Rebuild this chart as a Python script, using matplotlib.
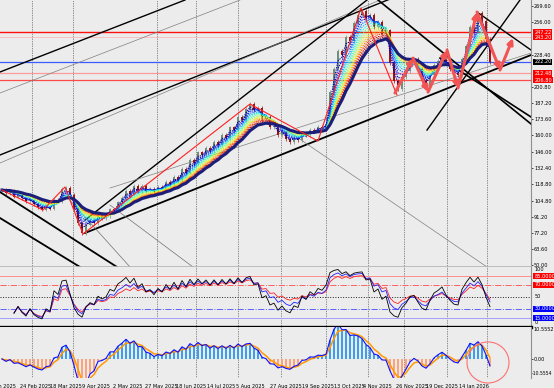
import numpy as np
import pandas as pd
import matplotlib
matplotlib.use("Agg")
import matplotlib.pyplot as plt
from matplotlib.patches import Ellipse

plt.rcParams['font.family'] = 'DejaVu Sans'

# closing prices, one value every two sessions
close = [113.7, 110.8, 113.4, 108.2, 109.5, 106.6, 104.0, 105.5, 101.6, 99.0,
         97.2, 99.4, 98.0, 105.2, 103.8, 114.5, 115.6, 109.4, 97.5, 85.6,
         77.3, 84.5, 88.2, 86.0, 92.4, 90.1, 91.6, 97.4, 96.5, 103.3,
         106.9, 112.8, 110.5, 117.4, 113.0, 117.2, 112.9, 114.6, 112.2, 116.4,
         114.9, 120.5, 118.6, 124.8, 122.0, 131.3, 128.4, 139.0, 136.2, 145.6,
         143.0, 149.1, 146.4, 154.4, 151.8, 160.3, 157.9, 166.8, 164.2, 175.5,
         172.8, 182.5, 186.4, 181.6, 183.0, 173.8, 175.4, 167.2, 168.3, 160.5,
         162.8, 157.1, 154.4, 157.6, 156.2, 162.0, 160.0, 164.5, 163.1, 167.0,
         166.3, 169.6, 196.7, 216.2, 231.5, 228.0, 243.4, 240.1, 255.2, 262.0,
         265.3, 259.5, 262.0, 251.9, 256.0, 245.8, 249.0, 221.3, 206.0, 199.3,
         209.4, 214.6, 223.0, 224.6, 216.2, 206.1, 202.6, 211.2, 219.6, 223.1,
         228.0, 221.4, 216.2, 212.0, 211.1, 224.7, 236.0, 251.9, 248.0, 263.7,
         256.8, 241.7, 222.2]

date_pos = [-0.25, 8.5, 15.9, 23.5, 31.4, 39.9, 47.25, 54.9, 62, 70.9,
            78.9, 86.9, 93.9, 102.4, 110.1, 118.1]
date_labels = ["31 Jan 2025", "24 Feb 2025", "18 Mar 2025", "9 Apr 2025",
               "2 May 2025", "27 May 2025", "18 Jun 2025", "14 Jul 2025",
               "5 Aug 2025", "27 Aug 2025", "19 Sep 2025", "13 Oct 2025",
               "4 Nov 2025", "26 Nov 2025", "19 Dec 2025", "14 Jan 2026"]
separators = [7.5, 17.75, 38.75, 48.5, 59, 69.75, 81, 91.5, 100.5, 111.25, 121.25]

price_ticks = [269.60, 256.00, 228.40, 200.80, 187.20, 173.60, 160.00, 146.00,
               132.40, 118.80, 104.80, 91.20, 77.20, 63.60, 50.00]

# horizontal levels: price, colour, width
levels = [(247.22, '#ff1010', 1.0), (243.20, '#ffb0b0', 0.5), (222.40, '#3a5cff', 0.9),
          (212.48, '#ff9a9a', 0.9), (206.80, '#ff4a4a', 0.9)]
red_boxes = [247.22, 243.20, 212.48, 206.80]

# zigzag pivots (bar, price)
zz_i = [0, 10.25, 15.75, 20.25, 62, 79, 89.75, 98.75]
zz_p = [113.7, 96.8, 116.3, 76.4, 186.6, 155.2, 267.9, 194.2]

# hand drawn arrow path (bar, price)
arr_i = [98.25, 102.75, 106.5, 111.25, 114, 118.75, 124.5, 127.75]
arr_p = [195.9, 225.5, 196.7, 232.3, 200.1, 264.5, 215.4, 242.5]

# trend lines: bar0, price0, bar1, price1, colour, width
trends = [
    (-0.5, 143.4, 99.5, 278.9, 'black', 1.0),
    (-0.5, 136.6, 94.5, 274.7, '#808080', 0.5),
    (-0.5, 213.7, 45.75, 274.7, 'black', 1.0),
    (-0.5, 195.9, 59.5, 274.7, '#808080', 0.5),
    (20.75, 77.3, 132.25, 228.1, 'black', 1.3),
    (20.75, 88.3, 91.25, 274.7, 'black', 1.0),
    (27, 115.4, 132.25, 229.8, '#808080', 0.5),
    (-0.5, 112.0, 28.75, 48.5, 'black', 1.3),
    (-0.5, 90.0, 19.5, 48.5, 'black', 1.3),
    (16.25, 107.8, 32, 48.5, '#707070', 0.5),
    (27, 101.0, 47.75, 48.5, '#707070', 0.5),
    (62, 185.7, 121.25, 48.5, '#808080', 0.5),
    (106.25, 164.5, 129.5, 274.7, 'black', 1.0),
    (94, 274.7, 132.25, 169.7, 'black', 1.2),
    (118.75, 264.5, 132.25, 232.3, 'black', 1.0),
    (109.5, 225.5, 132.25, 175.6, 'black', 1.2),
]

bg = '#ececec'
fs = 3.6
W = 531 / 554
fig = plt.figure(figsize=(5.54, 3.88), dpi=100, facecolor=bg)
ax = fig.add_axes([0, 1 - 267 / 388, W, 267 / 388], facecolor=bg)
ax_rsi = fig.add_axes([0, 1 - 327 / 388, W, 60 / 388], facecolor=bg)
ax_macd = fig.add_axes([0, 1 - 378 / 388, W, 51 / 388], facecolor=bg)

c = np.array(close)
n = len(c)
x = np.arange(n)
o = np.r_[c[0], c[:-1]]
s = pd.Series(c)

for a in (ax, ax_rsi, ax_macd):
    a.set_xlim(-0.5, 132.25)
    for side in ('top', 'left', 'bottom'):
        a.spines[side].set_visible(False)
    a.spines['right'].set_color('#909090')
    a.spines['right'].set_linewidth(0.8)
    a.yaxis.tick_right()
    a.tick_params(axis='y', labelsize=fs, length=1.2, pad=1.0, width=0.5)
    a.tick_params(axis='x', bottom=False, labelbottom=False)
    for sp in separators:
        a.axvline(sp, color='#303030', lw=0.5, ls=(0, (1, 1.5)), zorder=1)

# ---- main panel ----
ax.set_ylim(48.5, 274.7)
ax.spines['bottom'].set_visible(True)
ax.spines['bottom'].set_color('#b4b4b4')
ax.spines['bottom'].set_linewidth(1.2)
ax.set_yticks(price_ticks)
ax.set_yticklabels([f"{v:.2f}" for v in price_ticks])

for lv, col, lw in levels:
    ax.axhline(lv, color=col, lw=lw, zorder=2)

for b0, p0, b1, p1, col, lw in trends:
    ax.plot([b0, b1], [p0, p1], color=col, lw=lw, zorder=2)

# candles
up = c >= o
body_lo = np.minimum(o, c)
body_hi = np.maximum(o, c)
cols = np.where(up, '#6f8f7f', '#9b1414')
ax.vlines(x, body_lo - 1.5, body_hi + 1.5, colors=cols, lw=0.5, zorder=3)
ax.bar(x, np.maximum(body_hi - body_lo, 0.6), bottom=body_lo, width=0.55,
       color=cols, zorder=3)

# moving average ribbon
k_list = np.linspace(2, 12, 14)
for k, span in enumerate(k_list):
    ema = s.ewm(span=span, adjust=False).mean()
    ax.plot(x, ema, color=plt.cm.jet(k / (len(k_list) - 1)), lw=0.7,
            ls=(0, (1.5, 1)), zorder=4)
ax.plot(x, s.ewm(span=13, adjust=False).mean(), color='#1c1f7a', lw=2.2, zorder=5)

ax.plot(zz_i, zz_p, color='#ff2020', lw=0.8, zorder=6)
for j in range(len(arr_i) - 1):
    ax.annotate('', xy=(arr_i[j + 1], arr_p[j + 1]), xytext=(arr_i[j], arr_p[j]),
                arrowprops=dict(arrowstyle='-|>', color='#f25454', lw=2.2,
                                mutation_scale=8, shrinkA=0, shrinkB=0), zorder=7)

ytr = ax.get_yaxis_transform()
for v in red_boxes:
    ax.text(1.006, v, f"{v:.2f}", transform=ytr, fontsize=fs, color='white',
            va='center', ha='left', clip_on=False,
            bbox=dict(boxstyle='square,pad=0.15', fc='#ff0000', ec='none'))
ax.text(1.006, c[-1], f"{c[-1]:.2f}", transform=ytr, fontsize=fs, color='white',
        va='center', ha='left', clip_on=False,
        bbox=dict(boxstyle='square,pad=0.15', fc='black', ec='none'))

# ---- RSI panel ----
def rsi(series, period):
    d = series.diff()
    gain = d.clip(lower=0).ewm(alpha=1 / period, adjust=True).mean()
    loss = (-d.clip(upper=0)).ewm(alpha=1 / period, adjust=True).mean()
    out = 100 - 100 / (1 + gain / loss)
    out.iloc[:3] = np.nan  # warm-up
    return out

ax_rsi.set_ylim(0, 100)
ax_rsi.spines['bottom'].set_visible(True)
ax_rsi.spines['bottom'].set_color('black')
ax_rsi.spines['bottom'].set_linewidth(2.4)
ax_rsi.set_yticks([])
rsi_levels = [(85, '#ff9090', '-'), (70, '#ff6060', '-.'), (50, '#202020', ':'),
              (30, '#6060ff', '-.'), (15, '#a0a0ff', '-')]
for lv, col, ls in rsi_levels:
    ax_rsi.axhline(lv, color=col, lw=0.7, ls=ls)
ax_rsi.plot(x, rsi(s, 12), color='#ff2020', lw=0.6)
ax_rsi.plot(x, rsi(s, 8), color='#2020ff', lw=0.6)
ax_rsi.plot(x, rsi(s, 5), color='black', lw=0.6)
rtr = ax_rsi.get_yaxis_transform()
for v, fc in [(85, '#ff0000'), (70, '#ff0000'), (30, '#0000ff'), (15, '#0000ff')]:
    ax_rsi.text(1.006, v, f"{v:.4f}", transform=rtr, fontsize=fs, color='white',
                va='center', ha='left', clip_on=False,
                bbox=dict(boxstyle='square,pad=0.15', fc=fc, ec='none'))
for v, t in [(96, '100'), (50, '50'), (7, '0')]:
    ax_rsi.text(1.006, v, t, transform=rtr, fontsize=fs, color='black',
                va='center', ha='left', clip_on=False)

# ---- MACD panel ----
fast = s.ewm(span=2.5, adjust=False).mean()
slow = s.ewm(span=7, adjust=False).mean()
macd = (fast - slow) / slow * 100
signal = macd.ewm(span=3, adjust=False).mean()

ax_macd.set_ylim(-6.5, 10.9)
ax_macd.set_yticks([0])
ax_macd.set_yticklabels(['0.00'])
hcol = np.where(macd >= 0, '#3d9df0', '#ffa27a')
ax_macd.bar(x, macd, width=0.45, color=hcol, zorder=2)
ax_macd.plot(x, signal, color='#ff9a00', lw=1.1, zorder=3)
ax_macd.plot(x, macd, color='#1010ff', lw=0.8, zorder=4)
mtr = ax_macd.get_yaxis_transform()
ax_macd.text(1.004, 10.1, '10.5552', transform=mtr, fontsize=fs, va='center',
             ha='left', clip_on=False)
ax_macd.text(1.002, -4.9, '-10.5554', transform=mtr, fontsize=3.3, va='center',
             ha='left', clip_on=False)
ax_macd.add_patch(Ellipse((121.5, -1.2), width=10.5, height=14.0, fc='none',
                          ec='#ff7070', lw=0.8, clip_on=False, zorder=5))
ax_macd.set_xticks(date_pos)
ax_macd.set_xticklabels(date_labels)
ax_macd.tick_params(axis='x', labelbottom=True, labelsize=fs, length=0, pad=4)

fig.savefig('out.png', dpi=100, facecolor=bg)
